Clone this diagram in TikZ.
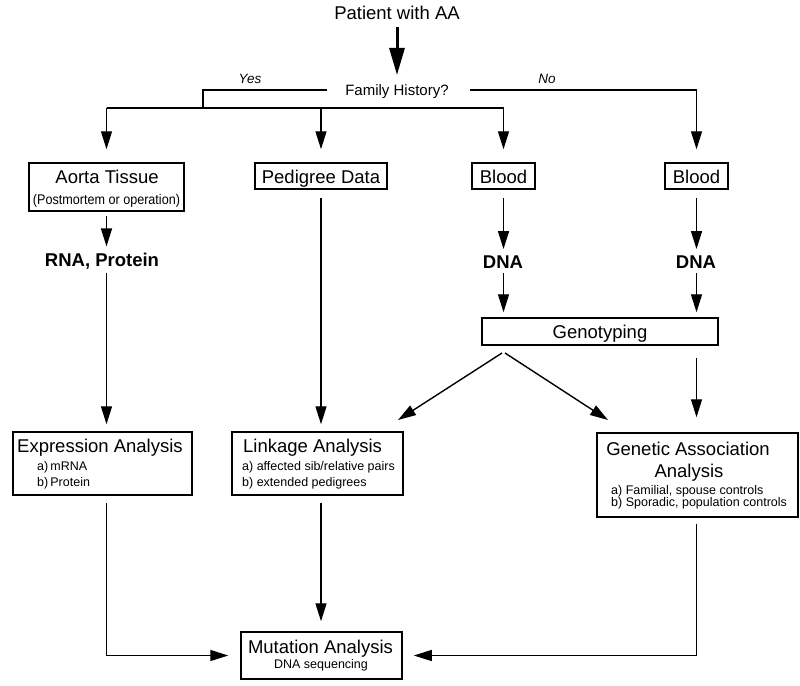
\documentclass[tikz,border=0pt]{standalone}
\usepackage{fontspec}
\usepackage{graphicx}
\setmainfont{Liberation Sans}
\usetikzlibrary{arrows.meta}
\begin{document}
\begin{tikzpicture}[x=1pt,y=-1pt,
  box/.style={draw, line width=1.5pt, inner sep=0pt},
  conn/.style={line width=1.4pt},
  arr/.style={conn, -{Triangle[length=18pt,width=11pt]}},
  bigarr/.style={line width=3pt, -{Triangle[length=27pt,width=15pt]}},
  txt/.style={inner sep=0pt, anchor=base},
  big/.style={txt, font=\fontsize{18.5}{20}\selectfont},
  bigb/.style={txt, font=\fontsize{18.5}{20}\selectfont\bfseries},
  small/.style={txt, anchor=base west, font=\fontsize{12.5}{14}\selectfont},
  mid/.style={txt, font=\fontsize{15}{17}\selectfont},
  yn/.style={txt, font=\fontsize{13.5}{15}\selectfont\itshape}
]
\useasboundingbox (0,0) rectangle (800,685);

% boxes
\node[box, minimum width=155pt, minimum height=48pt] (aorta) at (106.5,187) {};
\node[box, minimum width=132pt, minimum height=26pt] (pedigree) at (321,176) {};
\node[box, minimum width=63pt, minimum height=26pt] (blood1) at (503.5,176) {};
\node[box, minimum width=63pt, minimum height=26pt] (blood2) at (696.5,176) {};
\node[box, minimum width=236pt, minimum height=27pt] (geno) at (600,331.5) {};
\node[box, minimum width=179pt, minimum height=63pt] (expr) at (102.5,463.5) {};
\node[box, minimum width=171pt, minimum height=63pt] (link) at (317.5,463.5) {};
\node[box, minimum width=201pt, minimum height=84pt] (genet) at (697.5,475) {};
\node[box, minimum width=161pt, minimum height=47pt] (mut) at (321.5,655.5) {};

% texts
\node[big] (patient) at (397,20) {Patient with AA};
\node[mid] (family) at (397,95.5) {Family History?};
\node[yn] (yes) at (250,84) {Yes};
\node[yn] (no) at (547,84) {No};
\node[big] (aortaT) at (107,183) {Aorta Tissue};
\node[txt] (aortaS) at (106.5,204) {\scalebox{0.9}[1]{\fontsize{14}{14}\selectfont (Postmortem or operation)}};
\node[big] (pedT) at (321,183) {Pedigree Data};
\node[big] (blood1T) at (503.5,183) {Blood};
\node[big] (blood2T) at (696.5,183) {Blood};
\node[bigb] (rna) at (102,266) {RNA, Protein};
\node[bigb] (dna1) at (503,268) {DNA};
\node[bigb] (dna2) at (696,268) {DNA};
\node[big] (genoT) at (600,338) {Genotyping};
\node[big, anchor=base west] (exprT) at (17,452) {Expression Analysis};
\node[small] (exprA) at (37,470) {a)\,mRNA};
\node[small] (exprB) at (37,486) {b)\,Protein};
\node[big, anchor=base west] (linkT) at (243,452) {Linkage Analysis};
\node[small] (linkA) at (242,470) {a) affected sib/relative pairs};
\node[small] (linkB) at (242,486) {b) extended pedigrees};
\node[big] (genT1) at (688,455) {Genetic Association};
\node[big] (genT2) at (689,477) {Analysis};
\node[small] (genA) at (611,494) {a) Familial, spouse controls};
\node[small] (genB) at (611,506) {b) Sporadic, population controls};
\node[big] (mutT) at (320.5,653) {Mutation Analysis};
\node[txt, font=\fontsize{12.5}{14}\selectfont] (mutS) at (321,668) {DNA sequencing};

% junction coordinates
\coordinate (fl) at (327,90);
\coordinate (fc) at (203,90);
\coordinate (fd) at (203,108);
\coordinate (tl) at (106.5,108);
\coordinate (tr) at (503.5,108);
\coordinate (fr) at (470,90);
\coordinate (gl) at (502,353);
\coordinate (gr) at (505,353);
\coordinate (ll) at (398,420);
\coordinate (rr) at (608,420);

% connectors
\draw[bigarr] ([yshift=-7pt]patient.base) -- ([yshift=20.5pt]family.base);
\draw[conn] (fl) -- (fc) -- (fd);
\draw[conn] (tl) -- (tr);
\draw[arr, shorten >=13pt] (tl) -- (aorta.north);
\draw[arr, shorten >=13pt] (pedigree.north |- tl) -- (pedigree.north);
\draw[arr, shorten >=13pt] (tr) -- (blood1.north);
\draw[arr, shorten >=13pt] (fr) -- (blood2.north |- fr) -- (blood2.north);

\draw[arr, shorten <=4pt, shorten >=6pt] (aorta.south) -- (aorta.south |- rna.north);
\draw[arr, shorten <=4pt, shorten >=7pt] (aorta.south |- rna.south) -- (aorta.south |- expr.north);
\draw[arr, shorten <=8pt, shorten >=7pt] (pedigree.south) -- (pedigree.south |- link.north);

\draw[arr, shorten <=8pt, shorten >=6pt] (blood1.south) -- (blood1.south |- dna1.north);
\draw[arr, shorten <=5pt, shorten >=5pt] (blood1.south |- dna1.south) -- (blood1.south |- geno.north);
\draw[arr, shorten <=8pt, shorten >=6pt] (blood2.south) -- (blood2.south |- dna2.north);
\draw[arr, shorten <=5pt, shorten >=5pt] (blood2.south |- dna2.south) -- (blood2.south |- geno.north);

\draw[arr] (gl) -- (ll);
\draw[arr] (gr) -- (rr);
\draw[arr, shorten <=12pt, shorten >=15pt] (blood2.south |- geno.south) -- (blood2.south |- genet.north);

\draw[arr, shorten <=7pt, shorten >=12pt] (aorta.south |- expr.south) -- (aorta.south |- mut.west) -- (mut.west);
\draw[arr, shorten <=7pt, shorten >=10pt] (pedigree.south |- link.south) -- (pedigree.south |- mut.north);
\draw[arr, shorten <=6pt, shorten >=11pt] (blood2.south |- genet.south) -- (blood2.south |- mut.east) -- (mut.east);
\end{tikzpicture}
\end{document}
